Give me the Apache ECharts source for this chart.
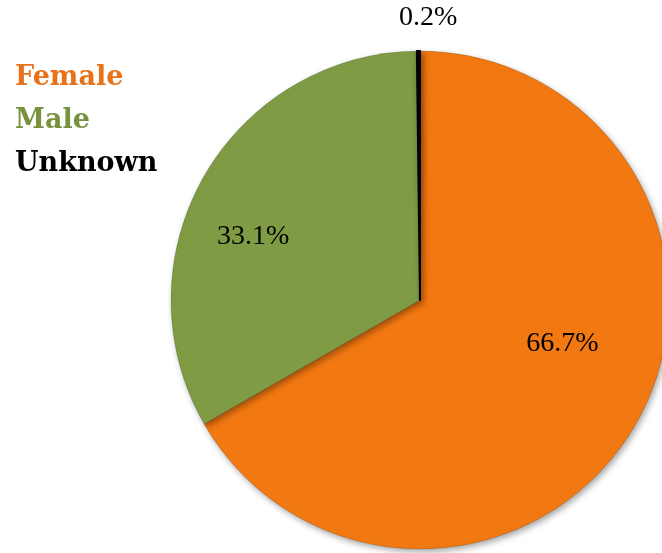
<!DOCTYPE html>
<html>
<head>
<meta charset="utf-8">
<script src="https://cdn.jsdelivr.net/npm/echarts@6/dist/echarts.min.js"></script>
<style>
  html, body { margin: 0; padding: 0; background: #fff; }
  #pieChart { width: 662px; height: 553px; }
</style>
</head>
<body>
<div id="pieChart"></div>
<script>
// gender split, clockwise from 12 o'clock
var genders = ['Female', 'Male', 'Unknown'];
var shares = [66.7, 33.1, 0.2];
var sliceColors = ['#F27812', '#7F9C45', '#000000'];
var legendColors = ['#E8721A', '#76923C', '#000000'];

// nudge labels to where the original puts them
var labelShift = [[32, -20], [-56, 0], [9, -155]];

var myChart = echarts.init(document.getElementById('pieChart'));

var pieData = genders.map(function (g, i) {
    var st = { color: sliceColors[i] };
    // the tiny slice gets a thicker edge so it reads like the original
    if (g === 'Unknown') {
        st.borderColor = '#000';
        st.borderWidth = 2;
    }
    return { name: g, value: shares[i], itemStyle: st };
});

var option = {
    animation: false,
    legend: {
        orient: 'vertical',
        left: 5,
        top: 58,
        icon: 'none',
        itemWidth: 0,
        itemHeight: 14,
        itemGap: 13,
        selectedMode: false,
        textStyle: {
            fontFamily: 'DejaVu Serif',
            fontWeight: 'bold',
            fontSize: 27,
            lineHeight: 30
        },
        data: genders.map(function (g, i) {
            return { name: g, textStyle: { color: legendColors[i] } };
        })
    },
    series: [{
        type: 'pie',
        center: [420, 300],
        radius: 249,
        startAngle: 90,
        clockwise: true,
        data: pieData,
        itemStyle: {
            borderColor: 'rgba(0,0,0,0.15)',
            borderWidth: 1,
            shadowBlur: 6,
            shadowOffsetX: 2,
            shadowOffsetY: 3,
            shadowColor: 'rgba(0,0,0,0.35)'
        },
        emphasis: { disabled: true },
        label: {
            show: true,
            position: 'inside',
            formatter: function (p) { return p.value.toFixed(1) + '%'; },
            fontFamily: 'Liberation Serif',
            fontSize: 28,
            color: '#000'
        },
        labelLine: { show: false },
        labelLayout: function (p) {
            var s = labelShift[p.dataIndex];
            return { dx: s[0], dy: s[1] };
        }
    }]
};

myChart.setOption(option);
</script>
</body>
</html>
